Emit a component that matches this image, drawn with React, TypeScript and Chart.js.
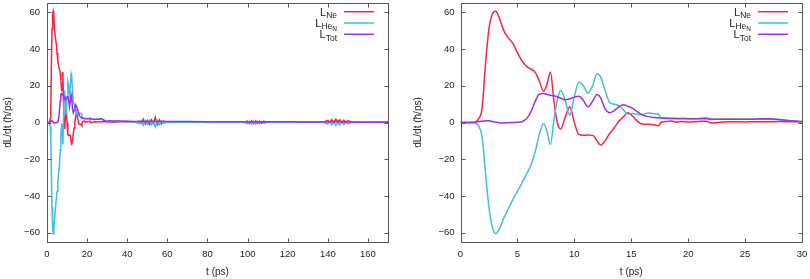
import React, { useEffect, useRef } from 'react';
import { Chart, registerables } from 'chart.js';
Chart.register(...registerables);

// ---- data: first 30 ps (right panel, also the start of the left panel) ----
const zoomT = [0, 1.0, 1.3, 1.6, 1.9, 2.2, 2.5, 2.8, 3.1, 3.4,
  3.8, 4.2, 4.6, 5.0, 5.4, 5.8, 6.2, 6.6, 6.9, 7.3,
  7.6, 7.9, 8.2, 8.5, 8.8, 9.2, 9.6, 10.0, 10.4, 10.8,
  11.2, 11.6, 12.0, 12.3, 12.7, 13.1, 13.5, 13.9, 14.3, 14.7,
  15.1, 15.5, 16.0, 16.5, 17.0, 17.4, 17.6, 18.0, 18.5, 19.0,
  19.5, 20, 21, 21.6, 22, 23, 24, 25, 26, 27,
  28, 29, 30];
const zoomNe = [0, 0, 0.3, 2, 8, 32, 51, 59, 60.5, 57,
  50, 46, 43, 38, 33.5, 30.5, 29, 27, 23, 17,
  21, 27.5, 12, 0, -3.5, 3, 8.5, 0, -6.5, -7,
  -6.8, -7, -10, -12.3, -10, -6, -3, 0.5, 3, 5.5,
  3.5, 1, -1, -1, -1.2, -1.8, 0, 0.5, 0.8, 0.2,
  0.5, 0.3, 0.6, 0.7, -0.3, 0.3, 0.4, 0.3, 0.4, 0.4,
  0.5, 0.4, 0.5];
const zoomHe = [0, 0, -0.3, -2, -8, -28, -46, -57, -60.5, -58,
  -52, -47, -42, -37.5, -33, -28, -23, -15, -7, -0.5,
  -5, -12, 1, 12, 17.5, 12, 4, 14, 22, 20,
  16, 20, 26.5, 25, 17.5, 11, 10, 9.2, 7, 4.5,
  4.9, 4.5, 4.4, 5.2, 4.8, 4.5, 2.4, 2.2, 2, 2,
  2, 2, 2.2, 2.6, 1.6, 1.8, 1.7, 1.7, 1.7, 1.8,
  1.5, 1.0, 0.5];
const zoomTot = [0, 0, 0.2, 0.5, 0.7, 0.9, 0.9, 0.5, 0.1, -0.2,
  -0.3, -0.1, 0, 0.1, 0.4, 2, 6, 12, 15.3, 15.8,
  15.3, 14.8, 14.5, 14, 13.2, 12.4, 12.8, 13.8, 14.3, 12,
  8.5, 11.5, 15.2, 13.5, 7.5, 5.3, 6.5, 8.5, 9.7, 8.8,
  7.8, 6, 4, 3.2, 2.7, 2.5, 2.5, 2.4, 2.3, 2.2,
  2.2, 2.1, 2, 2, 1.9, 1.8, 1.7, 1.8, 1.9, 2.1,
  1.6, 0.9, 0.4];

// ---- data: after 30 ps (left panel only) ----
const tailT = [31, 33, 36, 40, 44, 46, 47, 48, 49, 50,
  51, 52, 53, 54, 55, 56, 57, 58, 60, 65,
  70, 80, 90, 98, 100, 101, 102, 103, 104, 105,
  106, 107, 108, 110, 112, 120, 130, 138, 140, 141,
  142, 143, 144, 145, 146, 147, 148, 149, 150, 152,
  160, 170];
const tailNe = [0.3, 0.2, 0.4, 0.5, 0.2, 0.8, -0.5, 1.8, -0.8, 1.2,
  -1, 1.5, -0.5, 2.8, -1.2, 1.5, -0.8, 0.8, 0.2, 0.3,
  0.2, 0.2, 0.3, 0.2, 0.8, -0.5, 1, -0.6, 0.9, -0.5,
  0.8, -0.4, 0.6, 0.2, 0.4, 0.2, 0.3, 0.3, 1.2, 0.2,
  1.5, 0.3, 1.8, 0.5, 1.5, 0.2, 1.2, 0.3, 0.9, 0.3,
  0.2, 0.1];
const tailHe = [0.8, 0.6, 0.5, 0.4, 0.3, -0.6, 0.8, -1.5, 1, -1,
  1.2, -1.3, 0.8, -2.4, 1.2, -1.2, 1, -0.5, 0.3, 0.2,
  0.3, 0.2, 0.2, 0.2, -0.6, 0.6, -0.9, 0.7, -0.8, 0.6,
  -0.7, 0.5, -0.4, 0.2, 0.1, 0.2, 0.1, 0.1, -0.9, 0.3,
  -1.3, 0.1, -1.6, -0.2, -1.3, 0.1, -1, 0, -0.7, 0,
  0.1, 0.1];
const tailTot = [1.0, 0.8, 0.8, 0.7, 0.6, 0.5, 0.6, 0.4, 0.5, 0.4,
  0.5, 0.4, 0.5, 0.6, 0.4, 0.5, 0.5, 0.5, 0.5, 0.5,
  0.5, 0.4, 0.4, 0.4, 0.3, 0.4, 0.3, 0.4, 0.3, 0.4,
  0.3, 0.4, 0.3, 0.4, 0.4, 0.4, 0.3, 0.3, 0.3, 0.4,
  0.3, 0.4, 0.3, 0.4, 0.3, 0.4, 0.3, 0.4, 0.3, 0.3,
  0.2, 0.2];

const fullXTicks = [0, 20, 40, 60, 80, 100, 120, 140, 160];
const zoomXTicks = [0, 5, 10, 15, 20, 25, 30];
const yTicks = [-60, -40, -20, 0, 20, 40, 60];

const legendLabels = [
  { main: 'L', sub: 'Ne', sub2: '' },
  { main: 'L', sub: 'He', sub2: 'N' },
  { main: 'L', sub: 'Tot', sub2: '' },
];
const seriesColors = ['#f4234c', '#40bde4', '#9b30e6'];
const xTitle = 't (ps)';
const yTitle = 'dL/dt (\u0127/ps)';

const FONT = '"Liberation Sans", Arial, sans-serif';

function pts(ts: number[], vs: number[]) {
  return ts.map((t, i) => ({ x: t, y: vs[i] }));
}

function framePlugin(xTicks: number[], yTitleX: number) {
  return {
    id: 'gnuFrame',
    afterDraw(chart: any) {
      const { ctx, chartArea: a } = chart;
      const xs = chart.scales.x;
      const ys = chart.scales.y;
      ctx.save();
      const L = Math.round(a.left) + 0.5, R = Math.round(a.right) + 0.5;
      const T = Math.round(a.top) + 0.5, B = Math.round(a.bottom) + 0.5;
      ctx.strokeStyle = '#555';
      ctx.lineWidth = 1;
      ctx.strokeRect(L, T, R - L, B - T);
      const tl = 4;
      ctx.beginPath();
      xTicks.forEach((v) => {
        const p = Math.round(xs.getPixelForValue(v)) + 0.5;
        ctx.moveTo(p, B); ctx.lineTo(p, B - tl);
        ctx.moveTo(p, T); ctx.lineTo(p, T + tl);
      });
      yTicks.forEach((v) => {
        const p = Math.round(ys.getPixelForValue(v)) + 0.5;
        ctx.moveTo(L, p); ctx.lineTo(L + tl, p);
        ctx.moveTo(R, p); ctx.lineTo(R - tl, p);
      });
      ctx.stroke();

      // legend
      legendLabels.forEach((lab, i) => {
        const ly = a.top + 8.7 + i * 11.3;
        const x1 = a.right - 44, x2 = a.right - 14;
        ctx.strokeStyle = seriesColors[i];
        ctx.lineWidth = 1.5;
        ctx.beginPath();
        ctx.moveTo(x1, ly); ctx.lineTo(x2, ly);
        ctx.stroke();
        ctx.fillStyle = '#222';
        ctx.textBaseline = 'alphabetic';
        ctx.textAlign = 'left';
        const f1 = `11px ${FONT}`, f2 = `8.5px ${FONT}`, f3 = `6.5px ${FONT}`;
        ctx.font = f1; const w1 = ctx.measureText(lab.main).width;
        ctx.font = f2; const w2 = ctx.measureText(lab.sub).width;
        ctx.font = f3; const w3 = lab.sub2 ? ctx.measureText(lab.sub2).width : 0;
        let x = x1 - 7 - (w1 + w2 + w3);
        ctx.font = f1; ctx.fillText(lab.main, x, ly + 3.8); x += w1;
        ctx.font = f2; ctx.fillText(lab.sub, x, ly + 6.3); x += w2;
        if (lab.sub2) { ctx.font = f3; ctx.fillText(lab.sub2, x, ly + 8.3); }
      });

      // axis titles
      ctx.fillStyle = '#222';
      ctx.font = `10px ${FONT}`;
      ctx.textAlign = 'center';
      ctx.textBaseline = 'middle';
      ctx.fillText(xTitle, (a.left + a.right) / 2, 272);
      ctx.save();
      ctx.translate(yTitleX, (a.top + a.bottom) / 2);
      ctx.rotate(-Math.PI / 2);
      ctx.fillText(yTitle, 0, 0);
      ctx.restore();
      ctx.restore();
    },
  };
}

function makeConfig(opts: {
  ne: any[]; he: any[]; tot: any[]; xMax: number; xTicks: number[];
  yAxisW: number; padRight: number; smooth: boolean; yTitleX: number; yPad: number;
}) {
  const ds = (label: string, data: any[], i: number) => ({
    label, data,
    borderColor: seriesColors[i],
    backgroundColor: seriesColors[i],
    borderWidth: 1.5,
    pointRadius: 0,
    fill: false,
    order: 3 - i,
    tension: opts.smooth ? 0.4 : 0,
    cubicInterpolationMode: opts.smooth ? 'monotone' : 'default',
  });
  const tickFont = { family: FONT, size: 9.5 };
  const noPad = (s: any) => {
    s.paddingTop = 0; s.paddingBottom = 0; s.paddingLeft = 0; s.paddingRight = 0;
  };
  return {
    type: 'line',
    data: {
      datasets: [ds('L_Ne', opts.ne, 0), ds('L_HeN', opts.he, 1), ds('L_Tot', opts.tot, 2)],
    },
    options: {
      responsive: false,
      animation: false,
      events: [],
      layout: { padding: { top: 3, right: opts.padRight, left: 0, bottom: 0 } },
      plugins: { legend: { display: false }, tooltip: { enabled: false } },
      scales: {
        x: {
          type: 'linear', min: 0, max: opts.xMax,
          afterBuildTicks: (s: any) => { s.ticks = opts.xTicks.map((v) => ({ value: v })); },
          afterFit: (s: any) => { s.height = 37; noPad(s); },
          grid: { display: false, drawTicks: false },
          border: { display: false },
          ticks: { font: tickFont, color: '#222', padding: 7, maxRotation: 0, autoSkip: false },
        },
        y: {
          type: 'linear', min: -65, max: 65,
          afterBuildTicks: (s: any) => { s.ticks = yTicks.map((v) => ({ value: v })); },
          afterFit: (s: any) => { s.width = opts.yAxisW; noPad(s); },
          grid: { display: false, drawTicks: false },
          border: { display: false },
          ticks: {
            font: tickFont, color: '#222', padding: opts.yPad, autoSkip: false,
            callback: (v: any) => String(v).replace('-', '\u2212'),
          },
        },
      },
    },
    plugins: [framePlugin(opts.xTicks, opts.yTitleX)],
  };
}

export default function App() {
  const leftRef = useRef<HTMLCanvasElement>(null);
  const rightRef = useRef<HTMLCanvasElement>(null);
  useEffect(() => {
    const fullT = zoomT.concat(tailT);
    const left = new Chart(leftRef.current as any, makeConfig({
      ne: pts(fullT, zoomNe.concat(tailNe)),
      he: pts(fullT, zoomHe.concat(tailHe)),
      tot: pts(fullT, zoomTot.concat(tailTot)),
      xMax: 170, xTicks: fullXTicks, yAxisW: 47, padRight: 17, smooth: false, yTitleX: 8, yPad: 7,
    }) as any);
    const right = new Chart(rightRef.current as any, makeConfig({
      ne: pts(zoomT, zoomNe), he: pts(zoomT, zoomHe), tot: pts(zoomT, zoomTot),
      xMax: 30, xTicks: zoomXTicks, yAxisW: 55.5, padRight: 8, smooth: true, yTitleX: 13, yPad: 6,
    }) as any);
    return () => { left.destroy(); right.destroy(); };
  }, []);
  return (
    <div style={{ position: 'absolute', left: 0, top: 0, width: 810, height: 279, background: '#fff' }}>
      <canvas ref={leftRef} width={405} height={279}
        style={{ position: 'absolute', left: 0, top: 0, width: 405, height: 279 }} />
      <canvas ref={rightRef} width={405} height={279}
        style={{ position: 'absolute', left: 405, top: 0, width: 405, height: 279 }} />
    </div>
  );
}
